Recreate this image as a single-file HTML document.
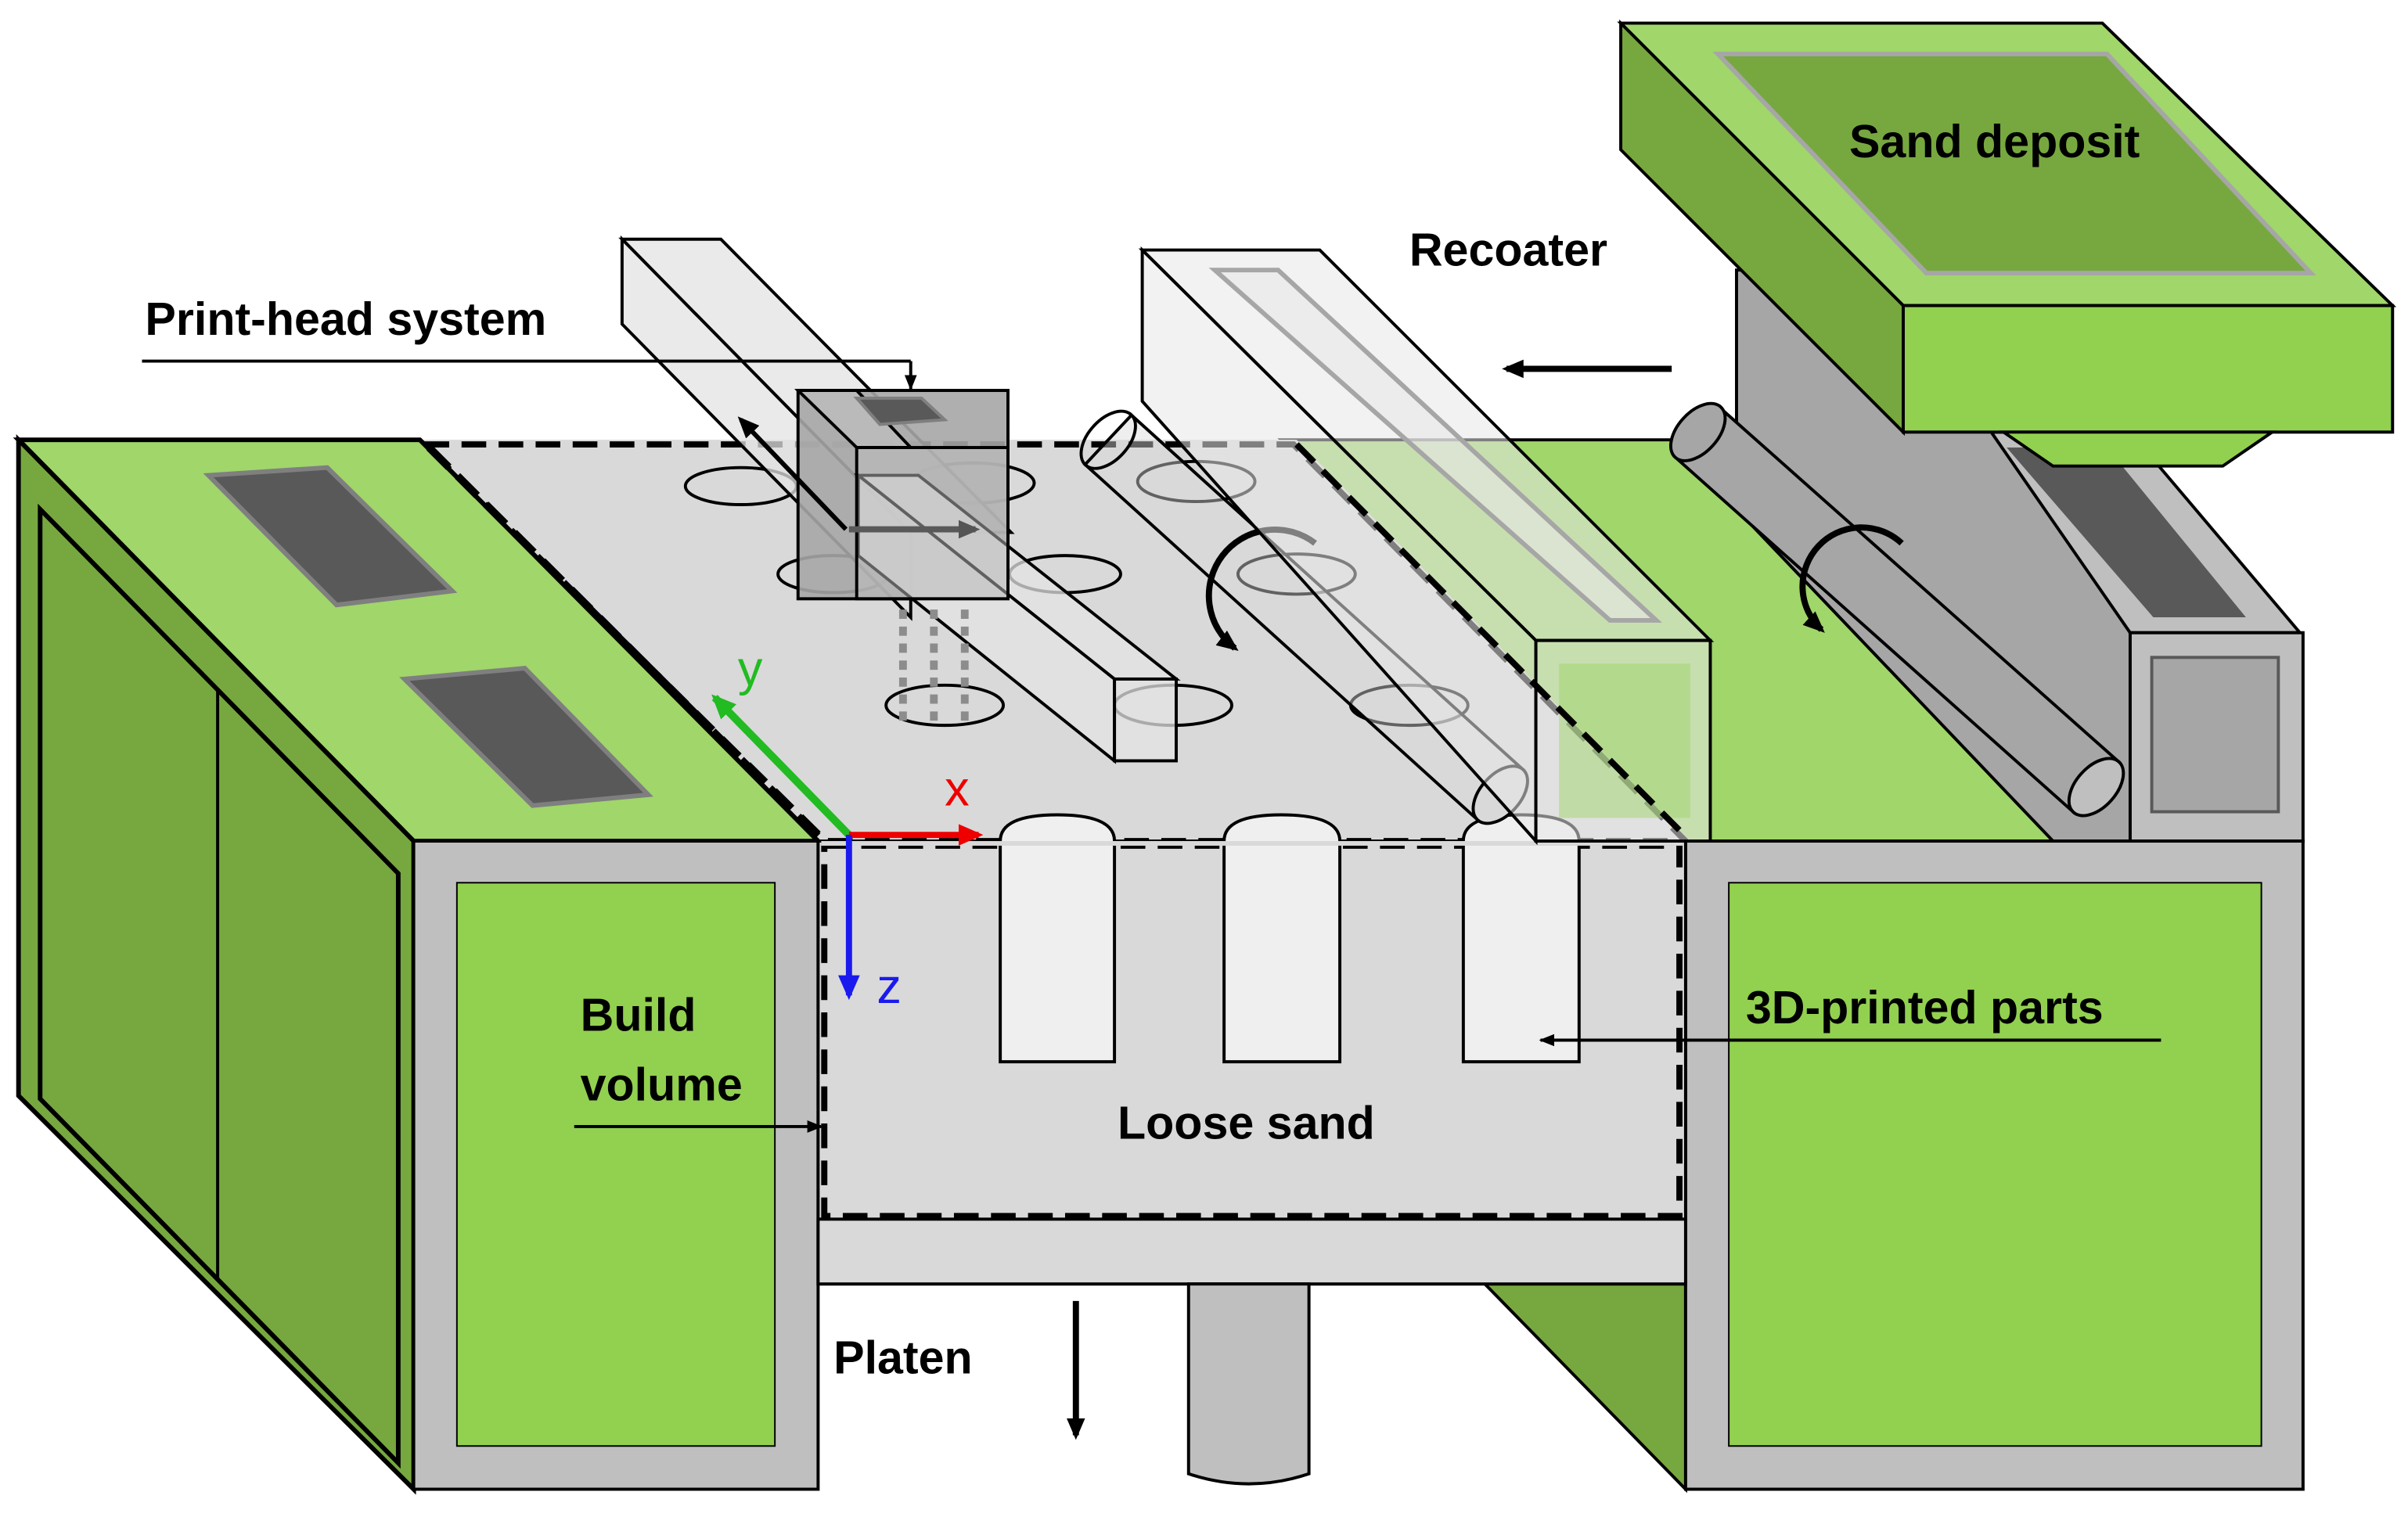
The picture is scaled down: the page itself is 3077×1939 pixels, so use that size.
<!DOCTYPE html>
<html><head><meta charset="utf-8"><style>
html,body{margin:0;padding:0;background:#fff;}
svg{display:block;}
text{font-family:"Liberation Sans",Arial,sans-serif;font-weight:bold;fill:#000;}
</style></head><body>
<svg width="3077" height="1939" viewBox="0 0 1560 983" preserveAspectRatio="none" xmlns="http://www.w3.org/2000/svg">
<defs>
<marker id="ah" markerWidth="14" markerHeight="12" refX="11" refY="6" orient="auto" markerUnits="userSpaceOnUse"><path d="M0,0 L14,6 L0,12 z" fill="#000"/></marker>
<marker id="ahs" markerWidth="10" markerHeight="8" refX="9" refY="4" orient="auto" markerUnits="userSpaceOnUse"><path d="M0,0 L10,4 L0,8 z" fill="#000"/></marker>
<marker id="ahg" markerWidth="16" markerHeight="14" refX="13" refY="7" orient="auto" markerUnits="userSpaceOnUse"><path d="M0,0 L16,7 L0,14 z" fill="#22bb22"/></marker>
<marker id="ahr" markerWidth="16" markerHeight="14" refX="13" refY="7" orient="auto" markerUnits="userSpaceOnUse"><path d="M0,0 L16,7 L0,14 z" fill="#e00"/></marker>
<marker id="ahb" markerWidth="16" markerHeight="14" refX="13" refY="7" orient="auto" markerUnits="userSpaceOnUse"><path d="M0,0 L16,7 L0,14 z" fill="#1a1aee"/></marker>
<marker id="ahd" markerWidth="14" markerHeight="12" refX="11" refY="6" orient="auto" markerUnits="userSpaceOnUse"><path d="M0,0 L14,6 L0,12 z" fill="#555"/></marker>
</defs>

<polygon points="960,830 1092,830 1092,965" fill="#77a83f" stroke="#000" stroke-width="2"/>

<polygon points="830,285 1130,285 1400,545 1092,545" fill="#a0d66a" stroke="#000" stroke-width="2"/>
<polygon points="1125,175 1240,175 1380,410 1380,545 1330,545 1125,330" fill="#a6a6a6" stroke="#000" stroke-width="2"/>
<polygon points="1290,280 1380,280 1490,410 1380,410" fill="#bfbfbf" stroke="#000" stroke-width="2"/>
<polygon points="1300,290 1365,290 1455,400 1395,400" fill="#595959"/>
<rect x="1380" y="410" width="112" height="135" fill="#bfbfbf" stroke="#000" stroke-width="2"/>
<rect x="1394" y="426" width="82" height="100" fill="#a6a6a6" stroke="#595959" stroke-width="2"/>
<!-- right roller -->
<polygon points="1114,264 1373,494 1343,526 1085,296" fill="#a6a6a6" stroke="#000" stroke-width="2"/>
<ellipse cx="1100" cy="280" rx="13" ry="22" transform="rotate(42 1100 280)" fill="#a6a6a6" stroke="#000" stroke-width="2"/>
<ellipse cx="1358" cy="510" rx="13" ry="22" transform="rotate(42 1358 510)" fill="#bfbfbf" stroke="#000" stroke-width="2"/>
<path d="M1232,352 A30,30 0 1,0 1180,408" fill="none" stroke="#000" stroke-width="4" marker-end="url(#ah)"/>

<polygon points="272,285 840,285 1095,545 530,545" fill="#d9d9d9"/>
<polyline points="275,288 838,288 1092,545 535,545 275,288" fill="none" stroke="#000" stroke-width="4" stroke-dasharray="16,8"/>
<g fill="#d9d9d9" stroke="#000" stroke-width="2">
<ellipse cx="480" cy="315" rx="36" ry="12"/>
<ellipse cx="630" cy="313" rx="40" ry="13"/>
<ellipse cx="775" cy="312" rx="38" ry="13"/>
<ellipse cx="540" cy="372" rx="36" ry="12"/>
<ellipse cx="690" cy="372" rx="36" ry="12"/>
<ellipse cx="840" cy="372" rx="38" ry="13"/>
<ellipse cx="612" cy="457" rx="38" ry="13"/>
<ellipse cx="760" cy="457" rx="38" ry="13"/>
<ellipse cx="913" cy="457" rx="38" ry="13"/>
</g>

<polygon points="12,285 272,285 530,545 268,545" fill="#a0d66a" stroke="#000" stroke-width="3"/>
<polygon points="12,285 268,545 268,965 12,710" fill="#77a83f" stroke="#000" stroke-width="3"/>
<polygon points="26,330 258,566 258,948 26,712" fill="none" stroke="#000" stroke-width="3"/>
<line x1="141" y1="448" x2="141" y2="830" stroke="#000" stroke-width="2"/>
<polygon points="135,308 212,303 293,383 218,392" fill="#595959" stroke="#7f7f7f" stroke-width="3"/>
<polygon points="262,440 340,433 420,515 345,522" fill="#595959" stroke="#7f7f7f" stroke-width="3"/>
<rect x="268" y="545" width="262" height="420" fill="#bfbfbf" stroke="#000" stroke-width="2"/>
<rect x="296" y="572" width="206" height="365" fill="#92d050" stroke="#000" stroke-width="1"/>
<line x1="278" y1="290" x2="533" y2="545" stroke="#000" stroke-width="5" stroke-dasharray="18,8"/>

<rect x="1092" y="545" width="400" height="420" fill="#bfbfbf" stroke="#000" stroke-width="2"/>
<rect x="1120" y="572" width="345" height="365" fill="#92d050" stroke="#000" stroke-width="1"/>

<rect x="530" y="545" width="562" height="287" fill="#d9d9d9" stroke="#000" stroke-width="2"/>
<rect x="530" y="790" width="562" height="42" fill="#d9d9d9" stroke="#000" stroke-width="2"/>
<rect x="534" y="548" width="554" height="240" fill="none" stroke="#000" stroke-width="4" stroke-dasharray="16,8"/>
<path d="M770,832 L770,955 Q809,968 848,955 L848,832 z" fill="#bfbfbf" stroke="#000" stroke-width="2"/>
<g fill="#efefef" stroke="#000" stroke-width="2">
<path d="M648,688 L648,545 Q648,528 685,528 Q722,528 722,545 L722,688 z"/>
<path d="M793,688 L793,545 Q793,528 830,528 Q868,528 868,545 L868,688 z"/>
<path d="M948,688 L948,545 Q948,528 985,528 Q1023,528 1023,545 L1023,688 z"/>
</g>
<rect x="532" y="545" width="558" height="3" fill="#d9d9d9"/>

<g fill="#e3e3e3" fill-opacity="0.75" stroke="#000" stroke-width="2">
<polygon points="403,155 467,155 655,345 590,345"/>
<polygon points="403,155 403,210 590,400 590,345"/>
<rect x="517" y="253" width="136" height="135" fill="#a6a6a6" fill-opacity="0.9"/>
<polygon points="517,253 555,253 590,290 555,290" fill="#bfbfbf"/>
<polygon points="556,308 595,308 762,440 722,440"/>
<polygon points="556,308 556,360 722,493 722,440"/>
<rect x="722" y="440" width="40" height="53"/>
<rect x="555" y="290" width="98" height="98" fill="#bfbfbf" fill-opacity="0.5"/>
</g>
<polygon points="555,258 597,258 612,272 570,275" fill="#595959" stroke="#7f7f7f" stroke-width="2"/>
<line x1="585" y1="395" x2="585" y2="470" stroke="#8c8c8c" stroke-width="5" stroke-dasharray="6,5"/>
<line x1="605" y1="395" x2="605" y2="470" stroke="#8c8c8c" stroke-width="5" stroke-dasharray="6,5"/>
<line x1="625" y1="395" x2="625" y2="470" stroke="#8c8c8c" stroke-width="5" stroke-dasharray="6,5"/>
<line x1="550" y1="343" x2="632" y2="343" stroke="#595959" stroke-width="4" marker-end="url(#ahd)"/>
<line x1="548" y1="343" x2="480" y2="272" stroke="#000" stroke-width="3" marker-end="url(#ah)"/>

<!-- recoater roller -->
<polygon points="733,269 987,499 957,531 703,301" fill="#d9d9d9" fill-opacity="0.45" stroke="#000" stroke-width="2"/>
<ellipse cx="718" cy="285" rx="13" ry="22" transform="rotate(42 718 285)" fill="none" stroke="#000" stroke-width="2"/>
<ellipse cx="972" cy="515" rx="13" ry="22" transform="rotate(42 972 515)" fill="#d9d9d9" stroke="#000" stroke-width="2"/>
<path d="M852,352 A30,30 0 1,0 800,420" fill="none" stroke="#000" stroke-width="4" marker-end="url(#ah)"/>
<g fill="#e8e8e8" fill-opacity="0.55" stroke="#000" stroke-width="2">
<polygon points="740,162 855,162 1108,415 995,415"/>
<polygon points="740,162 740,260 995,545 995,415"/>
<rect x="995" y="415" width="113" height="130"/>
</g>
<polygon points="787,175 828,175 1073,402 1043,402" fill="#e8e8e8" fill-opacity="0.6" stroke="#a6a6a6" stroke-width="3"/>
<rect x="1010" y="430" width="85" height="100" fill="#a0d66a" fill-opacity="0.5"/>
<line x1="840" y1="288" x2="1090" y2="540" stroke="#000" stroke-width="4" stroke-dasharray="16,8"/>

<polygon points="1050,15 1362,15 1550,198 1233,198" fill="#a0d66a" stroke="#000" stroke-width="2"/>
<polygon points="1050,15 1050,97 1233,280 1233,198" fill="#77a83f" stroke="#000" stroke-width="2"/>
<rect x="1233" y="198" width="317" height="82" fill="#92d050" stroke="#000" stroke-width="2"/>
<polygon points="1113,35 1365,35 1497,177 1248,177" fill="#77a83f" stroke="#a6a6a6" stroke-width="3"/>
<polygon points="1298,280 1472,280 1440,302 1330,302" fill="#92d050" stroke="#000" stroke-width="2"/>

<line x1="550" y1="541" x2="463" y2="452" stroke="#22bb22" stroke-width="5" marker-end="url(#ahg)"/>
<line x1="550" y1="541" x2="634" y2="541" stroke="#e00" stroke-width="4" marker-end="url(#ahr)"/>
<line x1="550" y1="541" x2="550" y2="645" stroke="#1a1aee" stroke-width="4" marker-end="url(#ahb)"/>
<text x="478" y="444" font-size="32" style="fill:#22bb22;font-weight:normal">y</text>
<text x="612" y="522" font-size="32" style="fill:#e00;font-weight:normal">x</text>
<text x="568" y="650" font-size="32" style="fill:#1a1aee;font-weight:normal">z</text>

<line x1="92" y1="234" x2="590" y2="234" stroke="#000" stroke-width="2"/>
<line x1="590" y1="234" x2="590" y2="252" stroke="#000" stroke-width="2" marker-end="url(#ahs)"/>
<text x="94" y="217" font-size="30">Print-head system</text>
<text x="913" y="172" font-size="30">Recoater</text>
<line x1="1083" y1="239" x2="976" y2="239" stroke="#000" stroke-width="4" marker-end="url(#ah)"/>
<text x="1198" y="102" font-size="30">Sand deposit</text>
<text x="376" y="668" font-size="30">Build</text>
<text x="376" y="713" font-size="30">volume</text>
<line x1="372" y1="730" x2="532" y2="730" stroke="#000" stroke-width="2" marker-end="url(#ahs)"/>
<text x="724" y="738" font-size="30">Loose sand</text>
<text x="1131" y="663" font-size="30">3D-printed parts</text>
<line x1="1400" y1="674" x2="998" y2="674" stroke="#000" stroke-width="2" marker-end="url(#ahs)"/>
<text x="540" y="890" font-size="30">Platen</text>
<line x1="697" y1="843" x2="697" y2="930" stroke="#000" stroke-width="4" marker-end="url(#ah)"/>
</svg>
</body></html>
